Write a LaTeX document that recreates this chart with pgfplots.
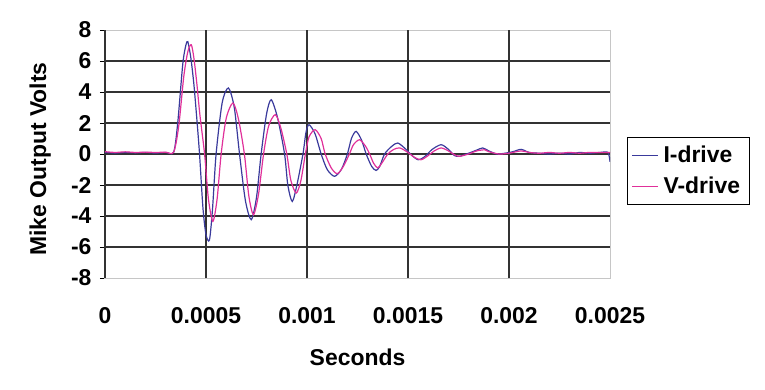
\documentclass[border=0pt]{standalone}
\usepackage{pgfplots}
\pgfplotsset{compat=1.18}
\usepackage{fontspec}
\setmainfont{Liberation Sans}
\definecolor{idrive}{HTML}{3A3A9C}
\definecolor{vdrive}{HTML}{E0309A}
\definecolor{gridc}{HTML}{333333}
\newcommand{\tfont}{\fontsize{23}{26}\selectfont\bfseries}
\begin{document}
\begin{tikzpicture}
\path (-105bp,-112bp) rectangle (660bp,278bp);
\begin{axis}[
  at={(0,0)}, anchor=south west,
  scale only axis, width=505bp, height=248bp,
  xmin=0, xmax=0.0025, ymin=-8, ymax=8,
  xtick={0,0.0005,0.001,0.0015,0.002,0.0025},
  xticklabels={0,0.0005,0.001,0.0015,0.002,0.0025},
  scaled x ticks=false,
  ytick={-8,-6,...,8},
  extra x ticks={0,0.0005,0.001,0.0015,0.002},
  extra x tick labels={},
  extra x tick style={grid=major, major tick length=0pt},
  extra y ticks={-6,-4,...,6},
  extra y tick labels={},
  extra y tick style={grid=major, major tick length=0pt},
  major grid style={gridc, line width=1.5bp},
  axis line style={gray!45, line width=1bp},
  tick align=outside, ytick pos=left, xtick pos=bottom,
  major tick length=5bp,
  x tick style={draw=none},
  y tick style={black, line width=0.8bp},
  /pgf/number format/assume math mode=true,
  tick label style={font=\tfont},
  xticklabel style={yshift=-21bp},
  yticklabel style={xshift=-5bp},
  xlabel={Seconds}, ylabel={Mike Output Volts},
  label style={font=\tfont},
  xlabel style={at={(axis description cs:0.5,-0.27)}, anchor=north},
  ylabel style={at={(axis description cs:-0.1,0.48)}, anchor=south},
  legend style={at={(axis description cs:1.034,0.569)}, anchor=north west,
    draw=black, line width=0.8bp, font=\fontsize{23}{26}\selectfont\bfseries,
    inner xsep=4bp, inner ysep=7bp, row sep=9bp,
    nodes={inner xsep=5bp}},
  legend cell align=left,
  legend image code/.code={\draw[#1, line width=1bp] (0bp,0bp) -- (26bp,0bp);},
]
\addplot[idrive, line width=1.2bp, smooth, tension=0.45] coordinates {
(0,0.1) (0.00005,0.06) (0.0001,0.1) (0.00015,0.07) (0.0002,0.1) (0.00025,0.06) (0.0003,0.1) (0.00034,0.12)
(0.00036,2.0) (0.000385,5.8) (0.0004,7.0) (0.00041,7.25) (0.000425,6.2) (0.00044,4.5) (0.000455,2.2)
(0.000468,0) (0.000485,-3.5) (0.0005,-5.2) (0.000517,-5.55) (0.000532,-3.6) (0.00055,0)
(0.00058,3.3) (0.000611,4.26) (0.00064,3.0) (0.000666,0) (0.000695,-3.0) (0.000724,-4.24)
(0.00075,-2.8) (0.000773,0) (0.0008,2.6) (0.000823,3.5) (0.000855,2.3) (0.000889,0)
(0.000905,-2.0) (0.000927,-3.06) (0.00095,-2.0) (0.00098,0) (0.000995,1.4) (0.00101,1.89)
(0.00104,1.3) (0.00107,0) (0.0011,-1.0) (0.001136,-1.44) (0.00117,-1.0) (0.0012,0)
(0.00122,1.0) (0.001243,1.46) (0.00127,0.9) (0.001293,0) (0.00132,-0.8) (0.001342,-1.06)
(0.00136,-0.8) (0.001384,0) (0.00142,0.5) (0.00145,0.71) (0.00149,0.3) (0.00152,-0.1)
(0.00155,-0.37) (0.00158,-0.2) (0.00162,0.3) (0.001664,0.6) (0.0017,0.3) (0.00173,-0.1)
(0.001755,-0.15) (0.0018,0.05) (0.00184,0.25) (0.00187,0.39) (0.0019,0.2) (0.00194,0.0)
(0.00198,0.05) (0.00202,0.15) (0.00206,0.3) (0.0021,0.1) (0.00215,0.05) (0.0022,0.0)
(0.00225,0.05) (0.0023,0.0) (0.00235,0.1) (0.0024,0.05) (0.00245,0.1) (0.00249,0.1) (0.0025,-0.5)
};
\addlegendentry{I-drive}
\addplot[vdrive, line width=1.2bp, smooth, tension=0.45] coordinates {
(0,0.15) (0.00005,0.1) (0.0001,0.14) (0.00015,0.1) (0.0002,0.12) (0.00025,0.1) (0.0003,0.12) (0.00034,0.12)
(0.000365,1.8) (0.00039,5.0) (0.00041,6.6) (0.000427,7.05) (0.00044,6.2) (0.000455,4.5)
(0.00047,2.5) (0.000493,0) (0.000512,-2.9) (0.000534,-4.35) (0.000555,-2.9) (0.000575,0)
(0.0006,2.3) (0.000633,3.29) (0.00066,2.3) (0.00069,0) (0.000712,-2.7) (0.000735,-3.92)
(0.00076,-2.6) (0.000785,0) (0.00081,1.8) (0.000843,2.54) (0.00087,1.7) (0.0009,0)
(0.00092,-1.7) (0.000947,-2.52) (0.00097,-1.7) (0.000992,0) (0.00101,1.1) (0.00104,1.57)
(0.00107,1.0) (0.00109,0) (0.00112,-0.9) (0.00115,-1.27) (0.00118,-0.8) (0.00121,0)
(0.00123,0.6) (0.00126,0.92) (0.00129,0.5) (0.00131,0) (0.00133,-0.6) (0.00135,-0.9)
(0.00137,-0.6) (0.0014,0) (0.00143,0.3) (0.00146,0.39) (0.0015,0.1) (0.00153,-0.2)
(0.001565,-0.37) (0.0016,-0.1) (0.00163,0.2) (0.001664,0.39) (0.0017,0.2) (0.00173,-0.05)
(0.001755,-0.15) (0.0018,0.0) (0.00184,0.2) (0.00188,0.27) (0.0019,0.15) (0.00195,0.0)
(0.002,0.05) (0.00206,0.2) (0.0021,0.1) (0.00215,0.05) (0.0022,0.1) (0.00225,0.05)
(0.0023,0.1) (0.00235,0.05) (0.0024,0.1) (0.0025,0.1)
};
\addlegendentry{V-drive}
\end{axis}
\end{tikzpicture}
\end{document}
